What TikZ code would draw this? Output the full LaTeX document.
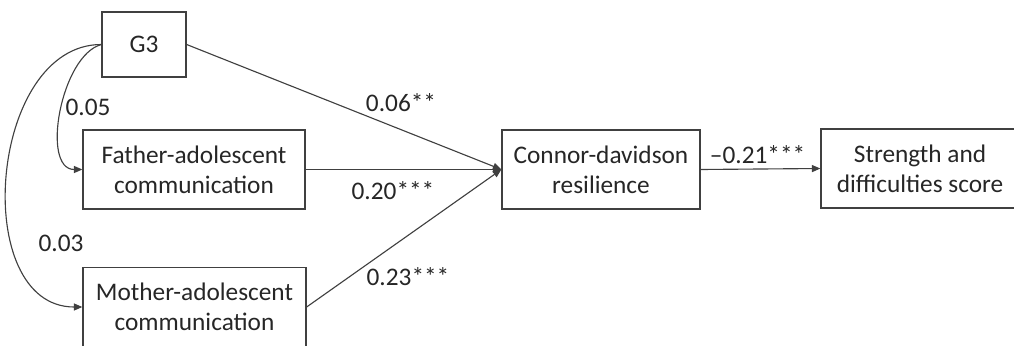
\documentclass[tikz,border=0pt]{standalone}
\usepackage{fontspec}
\setmainfont{Carlito}
\usetikzlibrary{arrows.meta}

\begin{document}
\begin{tikzpicture}[
  box/.style={draw=black!75, line width=0.9pt, align=center, inner sep=0pt,
    minimum height=1.975cm, text=black!85, font=\fontsize{18}{21.5}\selectfont},
  effect/.style={draw=black!75, line width=0.8pt, -{Triangle[length=6pt,width=5pt]}},
  coef/.style={text=black!85, font=\fontsize{18}{21.5}\selectfont}
]
\useasboundingbox (0,0) rectangle (25.35,8.625);

\node [box, minimum width=2.1cm, minimum height=1.625cm] (g3) at (3.6,7.5125) {G3};
\node [box, minimum width=5.55cm] (father) at (4.85,4.3875) {Father-adolescent\\communication};
\node [box, minimum width=5.575cm] (mother) at (4.8625,0.95) {Mother-adolescent\\communication};
\node [box, minimum width=4.95cm] (cdr) at (15.025,4.3875) {Connor-davidson\\resilience};
\node [box, minimum width=4.95cm] (sdq) at (23.0,4.4125) {Strength and\\difficulties score};

\draw [effect] (g3.east) -- (cdr.west);
\draw [effect] (father.east) -- (cdr.west);
\draw [effect] (mother.east) -- (cdr.west);
\draw [effect] (cdr.east) -- (sdq.west);
\draw [effect] (g3.west) to [out=195,in=180,looseness=0.85] (father.west);
\draw [effect] (g3.west) to [out=180,in=180,looseness=1.1] (mother.west);

\node [coef] (b1) at (10.025,6.05) {0.06**};
\node [coef] (b2) at (9.825,3.85) {0.20***};
\node [coef] (b3) at (10.2,1.7) {0.23***};
\node [coef] (b4) at (18.94,4.75) {--0.21***};
\node [coef] (r1) at (2.2,5.95) {0.05};
\node [coef] (r2) at (1.525,2.55) {0.03};
\end{tikzpicture}
\end{document}
